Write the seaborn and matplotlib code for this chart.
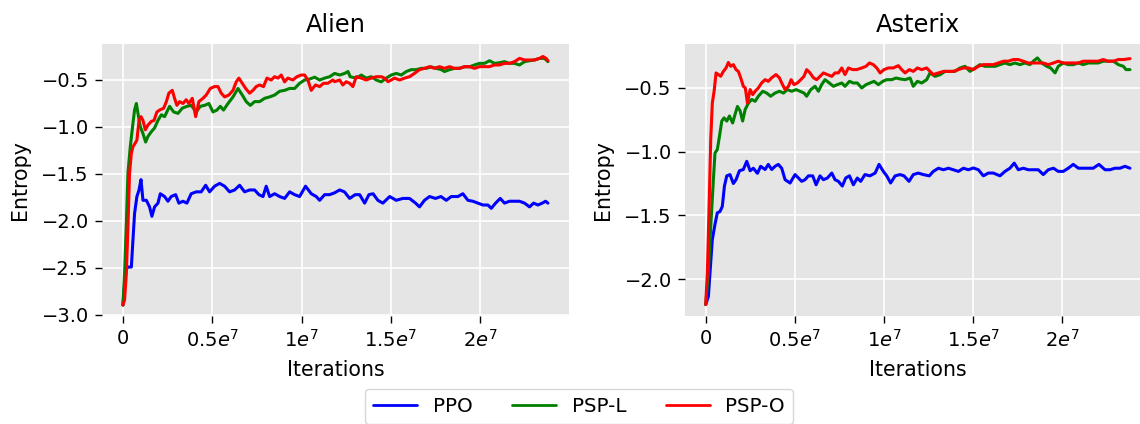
import numpy as np
import pandas as pd
import matplotlib
matplotlib.use("Agg")
import matplotlib.pyplot as plt
import seaborn as sns

# Training curves: policy entropy vs. iterations (x in units of 1e7 iterations)
methods = ["PPO", "PSP-L", "PSP-O"]
colors = {"PPO": "blue", "PSP-L": "green", "PSP-O": "red"}

# ---------------- Alien ----------------
alien_ppo_x = [0, 0.015, 0.028, 0.047, 0.056, 0.065, 0.078, 0.09, 0.101, 0.112, 0.131, 0.149, 0.162, 0.177,
               0.196, 0.209, 0.233, 0.252, 0.27, 0.295, 0.313, 0.336, 0.358, 0.382, 0.41, 0.438, 0.463, 0.485,
               0.513, 0.541, 0.569, 0.597, 0.625, 0.653, 0.681, 0.709, 0.737, 0.761, 0.784, 0.802, 0.821, 0.849,
               0.877, 0.905, 0.933, 0.961, 0.989, 1.022, 1.054, 1.082, 1.101, 1.129, 1.157, 1.185, 1.213, 1.24,
               1.269, 1.30, 1.325, 1.353, 1.377, 1.40, 1.427, 1.455, 1.493, 1.53, 1.567, 1.604, 1.638, 1.66,
               1.688, 1.716, 1.75, 1.78, 1.81, 1.838, 1.875, 1.903, 1.931, 1.959, 1.987, 2.015, 2.043, 2.062,
               2.086, 2.112, 2.136, 2.164, 2.192, 2.22, 2.248, 2.276, 2.299, 2.323, 2.347, 2.366, 2.379]
alien_ppo_y = [-2.894, -2.52, -2.49, -2.49, -2.2, -1.92, -1.74, -1.67, -1.56, -1.78, -1.78, -1.85, -1.95, -1.85,
               -1.81, -1.71, -1.74, -1.79, -1.74, -1.72, -1.81, -1.79, -1.81, -1.71, -1.69, -1.69, -1.62, -1.69,
               -1.63, -1.60, -1.63, -1.69, -1.67, -1.62, -1.69, -1.67, -1.67, -1.72, -1.74, -1.63, -1.74, -1.71,
               -1.74, -1.76, -1.69, -1.72, -1.74, -1.63, -1.71, -1.74, -1.78, -1.72, -1.72, -1.70, -1.67, -1.69,
               -1.76, -1.72, -1.72, -1.81, -1.72, -1.71, -1.78, -1.81, -1.74, -1.78, -1.76, -1.76, -1.81, -1.85,
               -1.78, -1.74, -1.76, -1.74, -1.78, -1.74, -1.74, -1.71, -1.78, -1.79, -1.81, -1.83, -1.83, -1.865,
               -1.81, -1.76, -1.81, -1.79, -1.79, -1.79, -1.81, -1.85, -1.81, -1.83, -1.81, -1.79, -1.81]

alien_pspl_x = [0, 0.009, 0.019, 0.028, 0.041, 0.056, 0.065, 0.075, 0.084, 0.097, 0.112, 0.127, 0.14, 0.159,
                0.177, 0.196, 0.215, 0.233, 0.261, 0.284, 0.308, 0.332, 0.358, 0.382, 0.41, 0.433, 0.457, 0.481,
                0.504, 0.526, 0.545, 0.563, 0.588, 0.616, 0.644, 0.668, 0.69, 0.713, 0.737, 0.765, 0.793, 0.821,
                0.849, 0.877, 0.905, 0.933, 0.961, 0.989, 1.017, 1.045, 1.073, 1.101, 1.129, 1.157, 1.185, 1.213,
                1.241, 1.26, 1.272, 1.306, 1.334, 1.362, 1.39, 1.418, 1.446, 1.474, 1.502, 1.53, 1.558, 1.586,
                1.614, 1.642, 1.67, 1.698, 1.726, 1.754, 1.782, 1.8, 1.828, 1.856, 1.884, 1.912, 1.94, 1.968,
                1.996, 2.024, 2.052, 2.08, 2.108, 2.136, 2.164, 2.192, 2.22, 2.248, 2.276, 2.304, 2.332, 2.36, 2.379]
alien_pspl_y = [-2.894, -2.56, -2.02, -1.49, -1.21, -0.96, -0.82, -0.75, -0.855, -0.996, -1.07, -1.16, -1.10, -1.05,
                -1.01, -0.93, -0.87, -0.89, -0.78, -0.84, -0.855, -0.80, -0.78, -0.77, -0.84, -0.78, -0.77, -0.75,
                -0.84, -0.82, -0.78, -0.82, -0.75, -0.68, -0.59, -0.66, -0.73, -0.77, -0.73, -0.73, -0.695, -0.68,
                -0.66, -0.62, -0.61, -0.59, -0.59, -0.535, -0.50, -0.49, -0.47, -0.50, -0.48, -0.465, -0.43, -0.447,
                -0.43, -0.41, -0.465, -0.48, -0.447, -0.48, -0.465, -0.50, -0.52, -0.48, -0.447, -0.43, -0.447, -0.41,
                -0.39, -0.39, -0.376, -0.376, -0.36, -0.376, -0.39, -0.41, -0.39, -0.376, -0.376, -0.36, -0.36, -0.34,
                -0.323, -0.323, -0.295, -0.323, -0.316, -0.305, -0.323, -0.323, -0.34, -0.305, -0.295, -0.287, -0.27,
                -0.27, -0.305]

alien_pspo_x = [0, 0.009, 0.019, 0.028, 0.037, 0.047, 0.056, 0.069, 0.078, 0.09, 0.101, 0.112, 0.125, 0.14,
                0.159, 0.174, 0.19, 0.205, 0.228, 0.243, 0.257, 0.276, 0.289, 0.302, 0.317, 0.336, 0.354, 0.369,
                0.388, 0.407, 0.425, 0.448, 0.466, 0.489, 0.513, 0.532, 0.55, 0.569, 0.593, 0.616, 0.634, 0.649,
                0.668, 0.687, 0.709, 0.728, 0.746, 0.765, 0.787, 0.806, 0.83, 0.849, 0.868, 0.886, 0.905, 0.923,
                0.951, 0.974, 0.998, 1.017, 1.035, 1.054, 1.078, 1.101, 1.123, 1.147, 1.175, 1.185, 1.213, 1.231,
                1.25, 1.269, 1.287, 1.306, 1.334, 1.362, 1.39, 1.418, 1.446, 1.465, 1.484, 1.502, 1.52, 1.549,
                1.577, 1.604, 1.632, 1.66, 1.688, 1.716, 1.744, 1.772, 1.8, 1.828, 1.856, 1.884, 1.912, 1.94,
                1.968, 1.996, 2.024, 2.052, 2.08, 2.108, 2.136, 2.164, 2.192, 2.22, 2.248, 2.276, 2.304, 2.332,
                2.351, 2.369, 2.379]
alien_pspo_y = [-2.894, -2.84, -2.56, -2.06, -1.49, -1.28, -1.21, -1.17, -1.14, -0.93, -0.89, -0.93, -1.03, -0.98,
                -0.94, -0.93, -0.84, -0.82, -0.80, -0.73, -0.64, -0.61, -0.695, -0.77, -0.73, -0.75, -0.71, -0.75,
                -0.695, -0.89, -0.73, -0.695, -0.66, -0.59, -0.57, -0.57, -0.64, -0.68, -0.66, -0.61, -0.52, -0.48,
                -0.535, -0.59, -0.64, -0.61, -0.57, -0.553, -0.57, -0.48, -0.50, -0.465, -0.48, -0.447, -0.52, -0.48,
                -0.50, -0.465, -0.447, -0.447, -0.50, -0.61, -0.553, -0.57, -0.535, -0.535, -0.50, -0.518, -0.50, -0.553,
                -0.518, -0.535, -0.57, -0.465, -0.48, -0.50, -0.48, -0.465, -0.465, -0.48, -0.518, -0.50, -0.48, -0.50,
                -0.48, -0.465, -0.43, -0.39, -0.376, -0.358, -0.376, -0.358, -0.376, -0.358, -0.376, -0.376, -0.358,
                -0.358, -0.376, -0.358, -0.358, -0.358, -0.34, -0.34, -0.323, -0.323, -0.305, -0.27, -0.287, -0.287,
                -0.287, -0.27, -0.25, -0.27, -0.295]

# ---------------- Asterix ----------------
asterix_ppo_x = [0, 0.015, 0.024, 0.037, 0.052, 0.065, 0.08, 0.093, 0.105, 0.118, 0.136, 0.155, 0.17, 0.189,
                 0.211, 0.23, 0.249, 0.267, 0.29, 0.308, 0.333, 0.351, 0.37, 0.389, 0.407, 0.426, 0.445, 0.473,
                 0.501, 0.52, 0.538, 0.557, 0.576, 0.6, 0.619, 0.641, 0.66, 0.682, 0.707, 0.725, 0.744, 0.766,
                 0.785, 0.806, 0.828, 0.85, 0.869, 0.893, 0.921, 0.95, 0.972, 0.996, 1.015, 1.037, 1.062, 1.09,
                 1.112, 1.14, 1.164, 1.192, 1.22, 1.254, 1.276, 1.305, 1.333, 1.361, 1.388, 1.417, 1.445, 1.473,
                 1.501, 1.529, 1.557, 1.585, 1.613, 1.65, 1.678, 1.706, 1.73, 1.753, 1.781, 1.809, 1.837, 1.865,
                 1.893, 1.921, 1.95, 1.977, 2.005, 2.033, 2.061, 2.09, 2.117, 2.146, 2.173, 2.205, 2.239, 2.267,
                 2.295, 2.323, 2.351, 2.379]
asterix_ppo_y = [-2.20, -2.136, -1.95, -1.69, -1.57, -1.48, -1.47, -1.43, -1.27, -1.19, -1.18, -1.25, -1.22, -1.15,
                 -1.14, -1.076, -1.15, -1.13, -1.17, -1.115, -1.14, -1.10, -1.14, -1.115, -1.10, -1.13, -1.22, -1.246,
                 -1.18, -1.207, -1.233, -1.22, -1.19, -1.19, -1.26, -1.19, -1.22, -1.207, -1.168, -1.22, -1.233, -1.27,
                 -1.207, -1.19, -1.26, -1.207, -1.233, -1.18, -1.19, -1.168, -1.10, -1.155, -1.19, -1.246, -1.19, -1.18,
                 -1.19, -1.233, -1.18, -1.168, -1.18, -1.19, -1.155, -1.13, -1.142, -1.13, -1.142, -1.155, -1.13, -1.142,
                 -1.128, -1.142, -1.19, -1.168, -1.168, -1.19, -1.155, -1.13, -1.09, -1.142, -1.13, -1.142, -1.142,
                 -1.142, -1.18, -1.142, -1.13, -1.155, -1.155, -1.13, -1.10, -1.13, -1.13, -1.13, -1.13, -1.10, -1.142,
                 -1.142, -1.13, -1.13, -1.115, -1.13]

asterix_pspl_x = [0, 0.015, 0.028, 0.043, 0.052, 0.065, 0.077, 0.09, 0.103, 0.118, 0.133, 0.151, 0.164, 0.178,
                  0.193, 0.207, 0.221, 0.239, 0.258, 0.277, 0.295, 0.32, 0.342, 0.364, 0.389, 0.413, 0.436, 0.458,
                  0.482, 0.507, 0.529, 0.551, 0.566, 0.589, 0.613, 0.632, 0.65, 0.669, 0.693, 0.716, 0.738, 0.763,
                  0.781, 0.806, 0.828, 0.85, 0.875, 0.899, 0.921, 0.944, 0.968, 0.993, 1.015, 1.043, 1.067, 1.093,
                  1.118, 1.146, 1.164, 1.187, 1.211, 1.239, 1.258, 1.286, 1.314, 1.342, 1.37, 1.398, 1.426, 1.454,
                  1.482, 1.51, 1.538, 1.566, 1.594, 1.623, 1.65, 1.678, 1.706, 1.734, 1.762, 1.79, 1.818, 1.837,
                  1.86, 1.884, 1.912, 1.934, 1.959, 1.977, 2.005, 2.033, 2.061, 2.09, 2.117, 2.146, 2.173, 2.201,
                  2.229, 2.257, 2.286, 2.314, 2.342, 2.357, 2.379]
asterix_pspl_y = [-2.20, -1.95, -1.59, -1.22, -1.01, -0.984, -0.88, -0.76, -0.735, -0.76, -0.72, -0.775, -0.71, -0.645,
                  -0.68, -0.76, -0.67, -0.62, -0.59, -0.605, -0.565, -0.526, -0.54, -0.565, -0.54, -0.526, -0.54, -0.513,
                  -0.526, -0.513, -0.526, -0.54, -0.565, -0.513, -0.487, -0.526, -0.474, -0.435, -0.461, -0.487, -0.474,
                  -0.461, -0.487, -0.448, -0.461, -0.461, -0.50, -0.474, -0.461, -0.448, -0.474, -0.448, -0.435, -0.435,
                  -0.422, -0.43, -0.435, -0.422, -0.487, -0.448, -0.461, -0.435, -0.382, -0.409, -0.396, -0.37, -0.37,
                  -0.37, -0.343, -0.33, -0.37, -0.343, -0.317, -0.33, -0.33, -0.33, -0.317, -0.304, -0.317, -0.304,
                  -0.317, -0.304, -0.317, -0.29, -0.264, -0.304, -0.33, -0.343, -0.382, -0.33, -0.304, -0.317, -0.317,
                  -0.304, -0.317, -0.304, -0.304, -0.304, -0.29, -0.29, -0.29, -0.317, -0.33, -0.356, -0.356]

asterix_pspo_x = [0, 0.009, 0.019, 0.028, 0.037, 0.047, 0.058, 0.071, 0.084, 0.099, 0.114, 0.127, 0.14, 0.155,
                  0.17, 0.183, 0.196, 0.211, 0.222, 0.234, 0.249, 0.264, 0.277, 0.295, 0.314, 0.333, 0.351, 0.37,
                  0.394, 0.413, 0.426, 0.445, 0.464, 0.479, 0.495, 0.514, 0.533, 0.551, 0.566, 0.585, 0.604, 0.622,
                  0.641, 0.66, 0.682, 0.707, 0.725, 0.744, 0.763, 0.781, 0.8, 0.824, 0.847, 0.875, 0.899, 0.918,
                  0.94, 0.959, 0.978, 1.0, 1.024, 1.052, 1.08, 1.099, 1.118, 1.142, 1.164, 1.187, 1.211, 1.239,
                  1.258, 1.276, 1.305, 1.333, 1.361, 1.388, 1.417, 1.445, 1.473, 1.501, 1.529, 1.557, 1.585, 1.613,
                  1.641, 1.669, 1.697, 1.725, 1.753, 1.781, 1.809, 1.837, 1.865, 1.893, 1.921, 1.95, 1.977, 2.005,
                  2.033, 2.061, 2.09, 2.117, 2.146, 2.173, 2.201, 2.229, 2.257, 2.286, 2.314, 2.342, 2.379]
asterix_pspo_y = [-2.20, -1.95, -1.43, -0.906, -0.618, -0.526, -0.382, -0.395, -0.408, -0.37, -0.343, -0.30, -0.33,
                  -0.317, -0.356, -0.37, -0.42, -0.487, -0.50, -0.618, -0.513, -0.552, -0.526, -0.50, -0.46, -0.435,
                  -0.448, -0.42, -0.395, -0.42, -0.46, -0.513, -0.487, -0.435, -0.474, -0.461, -0.435, -0.409, -0.356,
                  -0.382, -0.42, -0.435, -0.409, -0.382, -0.395, -0.409, -0.382, -0.382, -0.343, -0.395, -0.343, -0.356,
                  -0.356, -0.343, -0.33, -0.304, -0.317, -0.343, -0.382, -0.356, -0.343, -0.343, -0.325, -0.356, -0.382,
                  -0.356, -0.37, -0.343, -0.356, -0.343, -0.37, -0.395, -0.382, -0.37, -0.37, -0.37, -0.356, -0.343,
                  -0.343, -0.356, -0.33, -0.317, -0.317, -0.317, -0.304, -0.29, -0.29, -0.277, -0.277, -0.29, -0.304,
                  -0.304, -0.304, -0.304, -0.317, -0.304, -0.29, -0.304, -0.304, -0.304, -0.304, -0.29, -0.29, -0.29,
                  -0.29, -0.277, -0.29, -0.29, -0.277, -0.277, -0.27]

xtick_vals = [0, 0.5e7, 1e7, 1.5e7, 2e7]
xtick_labels = ["0", r"$0.5e^7$", r"$1e^7$", r"$1.5e^7$", r"$2e^7$"]
alien_yticks = [-3.0, -2.5, -2.0, -1.5, -1.0, -0.5]
asterix_yticks = [-2.0, -1.5, -1.0, -0.5]


def long_frame(xs, ys):
    parts = []
    for m, x, y in zip(methods, xs, ys):
        parts.append(pd.DataFrame({"Iterations": np.asarray(x) * 1e7,
                                   "Entropy": y, "Method": m}))
    return pd.concat(parts, ignore_index=True)


alien_df = long_frame([alien_ppo_x, alien_pspl_x, alien_pspo_x],
                      [alien_ppo_y, alien_pspl_y, alien_pspo_y])
asterix_df = long_frame([asterix_ppo_x, asterix_pspl_x, asterix_pspo_x],
                        [asterix_ppo_y, asterix_pspl_y, asterix_pspo_y])

sns.set_style("darkgrid", {
    "axes.facecolor": "#E5E5E5",
    "axes.edgecolor": "white",
    "grid.color": "white",
    "xtick.bottom": True,
    "ytick.left": True,
    "xtick.color": "black",
    "ytick.color": "black",
    "axes.labelcolor": "black",
    "text.color": "black",
})
plt.rcParams["font.family"] = ["DejaVu Sans"]

fig = plt.figure(figsize=(11.4, 4.24), dpi=100)
W, H = 1140.0, 424.0
ax1 = fig.add_axes([101.7 / W, 1 - 316 / H, 467.3 / W, 272 / H])
ax2 = fig.add_axes([684.5 / W, 1 - 316 / H, 466.5 / W, 272 / H])

panels = [(ax1, alien_df, "Alien", (-3.011, -0.117), alien_yticks),
          (ax2, asterix_df, "Asterix", (-2.29, -0.155), asterix_yticks)]

for ax, df, title, ylim, yticks in panels:
    sns.lineplot(data=df, x="Iterations", y="Entropy", hue="Method",
                 hue_order=methods, palette=colors, estimator=None,
                 sort=False, linewidth=2.2, legend=False, ax=ax)
    ax.set_xlim(-0.119e7, 2.497e7)
    ax.set_ylim(*ylim)
    ax.set_xticks(xtick_vals)
    ax.set_xticklabels(xtick_labels)
    ax.set_yticks(yticks)
    ax.grid(True, color="white", linewidth=1.2)
    ax.tick_params(axis="both", which="major", labelsize=14, length=4.7,
                   width=1, color="black", pad=4.5)
    ax.set_title(title, fontsize=17.4, pad=9)
    ax.set_xlabel("Iterations", fontsize=14.8, labelpad=6.5)
    ax.set_ylabel("Entropy", fontsize=14.8, labelpad=8)
    for s in ax.spines.values():
        s.set_visible(False)

leg = fig.legend(ax1.lines[:3], methods, loc="upper center",
                 bbox_to_anchor=(579 / W, 1 - 389 / H), ncol=3,
                 fontsize=14.3, frameon=True, handlelength=2.2,
                 columnspacing=2.0, borderaxespad=0.0, fancybox=True)
leg.get_frame().set_edgecolor("#cccccc")
leg.get_frame().set_facecolor("white")
for line in leg.get_lines():
    line.set_linewidth(2.0)

fig.savefig("out.png", dpi=100)
